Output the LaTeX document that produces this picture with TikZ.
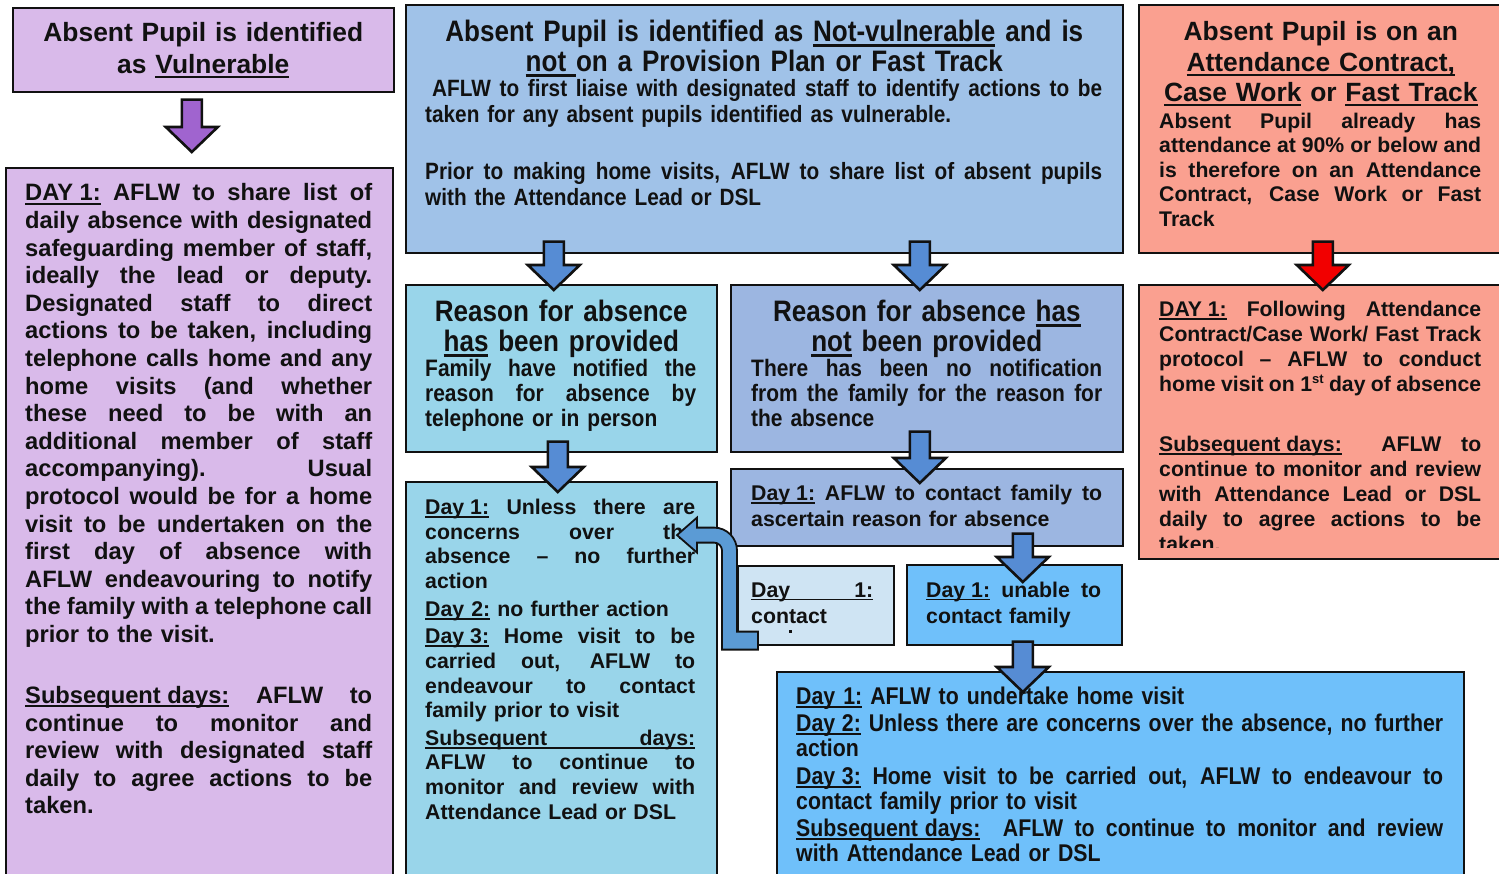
\documentclass[tikz,border=0pt]{standalone}
\usepackage{fontspec}
\setmainfont{Liberation Sans}
\newfontfamily\narrowfam{Liberation Sans}[FakeStretch=0.88]
\usepackage{xcolor}
\usetikzlibrary{calc}
\definecolor{ink}{HTML}{111111}
\definecolor{lilac}{HTML}{D9BAEA}
\definecolor{arrowpurple}{HTML}{A064CF}
\definecolor{paleblue}{HTML}{A0C2E8}
\definecolor{cyanblue}{HTML}{99D5EA}
\definecolor{periwinkle}{HTML}{9CB6E1}
\definecolor{iceblue}{HTML}{CFE4F3}
\definecolor{skyblue}{HTML}{6FC0FA}
\definecolor{salmon}{HTML}{FAA090}
\definecolor{arrowblue}{HTML}{568CD4}
\definecolor{arrowred}{HTML}{F20000}
\definecolor{uturn}{HTML}{5B9BD5}
% fonts (1pt = 1px of the page)
\newcommand{\headfont}{\bfseries\fontsize{26.4}{32}\selectfont}
\newcommand{\narrowhead}{\narrowfam\bfseries\fontsize{29.6}{30}\selectfont}
\newcommand{\narrowbody}{\narrowfam\bfseries\fontsize{23.6}{26}\selectfont}
\newcommand{\bodyfont}{\bfseries\fontsize{21.3}{24.7}\selectfont}
% underline at a fixed depth, crossing the descenders
\newcommand{\uln}[1]{\leavevmode\setbox0=\hbox{#1}\rlap{\vrule height -0.08em depth 0.16em width \wd0}\box0\relax}
% one justified line
\newcommand{\jl}[1]{\hbox to\hsize{\spaceskip=0.278em plus 1fil minus 0.1em\xspaceskip=\spaceskip #1}\par}
% two words pushed apart, underlined right across
\newcommand{\spreadul}[2]{\hbox to\hsize{\rlap{\vrule height -0.08em depth 0.16em width \hsize}#1\hfill #2}\par}
\newcommand{\sups}[1]{\raisebox{0.38em}{\fontsize{13}{13}\selectfont #1}}
% block arrow: fill, tail point, tip point (x taken from the tip)
\newcommand{\bigarrow}[3]{%
  \filldraw[draw=ink, line width=2.6pt, fill=#1, line join=miter]
    let \p1=(#2), \p2=(#3) in
    (\x2-10pt,\y1) -- (\x2+10pt,\y1) -- (\x2+10pt,\y2+25pt) -- (\x2+26pt,\y2+25pt)
    -- (\x2,\y2) -- (\x2-26pt,\y2+25pt) -- (\x2-10pt,\y2+25pt) -- cycle;}

\begin{document}
\begin{tikzpicture}[x=1pt, y=-1pt,
  every node/.style={inner sep=0pt, text=ink},
  box/.style={draw=ink, line width=1.6pt, anchor=north west},
  txt/.style={anchor=base west, align=left},
  headtxt/.style={anchor=base, align=center}]
\useasboundingbox (0,0) rectangle (1499,874);
% 1. the boxes
\node[box, fill=lilac, minimum width=381pt, minimum height=84pt] (vulnerable) at (12,7) {};
\node[box, fill=lilac, minimum width=387pt, minimum height=713pt] (vulday) at (5,167) {};
\node[box, fill=paleblue, minimum width=717pt, minimum height=248pt] (notvul) at (405,4) {};
\node[box, fill=cyanblue, minimum width=311pt, minimum height=167pt] (reasonyes) at (405,284) {};
\node[box, fill=periwinkle, minimum width=392pt, minimum height=167pt] (reasonno) at (730,284) {};
\node[box, fill=cyanblue, minimum width=311pt, minimum height=399pt] (nofurther) at (405,481) {};
\node[box, fill=periwinkle, minimum width=392pt, minimum height=77pt] (contactfam) at (730,468) {};
\node[box, fill=iceblue, minimum width=156pt, minimum height=79pt] (contacted) at (737,565) {};
\node[box, fill=skyblue, minimum width=215pt, minimum height=80pt] (unable) at (906,564) {};
\node[box, fill=skyblue, minimum width=687pt, minimum height=209pt] (homevisit) at (776,671) {};
\node[box, fill=salmon, minimum width=372pt, minimum height=248pt] (contract) at (1138,4) {};
\node[box, fill=salmon, minimum width=372pt, minimum height=274pt] (contractday) at (1138,284) {};

% 2. vulnerable column
\node[headtxt, font=\headfont, text width=370pt] (vulnerable-txt) at ([yshift=-35pt]vulnerable.north)
  {Absent Pupil is identified\\as \uln{Vulnerable}};
\node[txt, font=\bfseries\fontsize{23.7}{27.6}\selectfont, text width=347pt] (vulday-txt)
  at ([xshift=20pt,yshift=-34pt]vulday.north west) {%
  \jl{\uln{DAY 1:} AFLW to share list of}
  \jl{daily absence with designated}
  \jl{safeguarding member of staff,}
  \jl{ideally the lead or deputy.}
  \jl{Designated staff to direct}
  \jl{actions to be taken, including}
  \jl{telephone calls home and any}
  \jl{home visits (and whether}
  \jl{these need to be with an}
  \jl{additional member of staff}
  \jl{accompanying). Usual}
  \jl{protocol would be for a home}
  \jl{visit to be undertaken on the}
  \jl{first day of absence with}
  \jl{AFLW endeavouring to notify}
  \jl{the family with a telephone call}
  prior to the visit.\par\vspace{33.4pt}
  \jl{\uln{Subsequent days:} AFLW to}
  \jl{continue to monitor and}
  \jl{review with designated staff}
  \jl{daily to agree actions to be}
  taken.};

% 3. not-vulnerable column
\node[headtxt, font=\narrowhead, text width=700pt] (notvul-head) at ([yshift=-38pt]notvul.north)
  {Absent Pupil is identified as \uln{Not-vulnerable} and is\\\uln{not\ }on a Provision Plan or Fast Track};
\node[txt, font=\narrowbody, text width=677pt] (notvul-txt) at ([xshift=20pt,yshift=-93pt]notvul.north west) {%
  \jl{\kern7pt AFLW to first liaise with designated staff to identify actions to be}
  taken for any absent pupils identified as vulnerable.\par\vspace{31pt}
  \jl{Prior to making home visits, AFLW to share list of absent pupils}
  with the Attendance Lead or DSL};
\node[headtxt, font=\narrowhead, text width=300pt] (reasonyes-head) at ([yshift=-38pt]reasonyes.north)
  {Reason for absence\\\uln{has} been provided};
\node[txt, font=\narrowfam\bfseries\fontsize{23.8}{25}\selectfont, text width=271pt] (reasonyes-txt)
  at ([xshift=20pt,yshift=-93pt]reasonyes.north west) {%
  \jl{Family have notified the}
  \jl{reason for absence by}
  telephone or in person};
\node[headtxt, font=\narrowhead, text width=380pt] (reasonno-head) at ([yshift=-38pt]reasonno.north)
  {Reason for absence \uln{has}\\\uln{not} been provided};
\node[txt, font=\narrowfam\bfseries\fontsize{23.8}{25}\selectfont, text width=351pt] (reasonno-txt)
  at ([xshift=21pt,yshift=-93pt]reasonno.north west) {%
  \jl{There has been no notification}
  \jl{from the family for the reason for}
  the absence};
\node[txt, font=\bodyfont, text width=270pt] (nofurther-txt) at ([xshift=20pt,yshift=-33.5pt]nofurther.north west) {%
  \jl{\uln{Day 1:} Unless there are}
  \jl{concerns over the}
  \jl{absence – no further}
  action\par\vspace{2.8pt}
  \uln{Day 2:} no further action\par\vspace{2.8pt}
  \jl{\uln{Day 3:} Home visit to be}
  \jl{carried out, AFLW to}
  \jl{endeavour to contact}
  family prior to visit\par\vspace{2.8pt}
  \spreadul{Subsequent}{days:}
  \jl{AFLW to continue to}
  \jl{monitor and review with}
  Attendance Lead or DSL};
\node[txt, font=\bfseries\fontsize{21.3}{26}\selectfont, text width=351pt] (contactfam-txt)
  at ([xshift=21pt,yshift=-32.5pt]contactfam.north west) {%
  \jl{\uln{Day 1:} AFLW to contact family to}
  ascertain reason for absence};
\node[txt, font=\bfseries\fontsize{21.3}{26}\selectfont, text width=122pt] (contacted-txt)
  at ([xshift=14pt,yshift=-32pt]contacted.north west) {%
  \spreadul{Day}{1:}
  contact};
\fill[ink] (789,630) rectangle (791.5,633);
\node[txt, font=\bfseries\fontsize{21.3}{26}\selectfont, text width=175pt] (unable-txt)
  at ([xshift=20pt,yshift=-33pt]unable.north west) {%
  \jl{\uln{Day 1:} unable to}
  contact family};
\node[txt, font=\narrowfam\bfseries\fontsize{24.2}{25}\selectfont, text width=647pt] (homevisit-txt)
  at ([xshift=20pt,yshift=-33pt]homevisit.north west) {%
  \uln{Day 1:} AFLW to undertake home visit\par\vspace{2.5pt}
  \jl{\uln{Day 2:} Unless there are concerns over the absence, no further}
  action\par\vspace{2.5pt}
  \jl{\uln{Day 3:} Home visit to be carried out, AFLW to endeavour to}
  contact family prior to visit\par\vspace{2.5pt}
  \jl{\uln{Subsequent days:}\ \ AFLW to continue to monitor and review}
  with Attendance Lead or DSL};

% 4. contract column
\node[headtxt, font=\bfseries\fontsize{26.4}{30.5}\selectfont, text width=360pt] (contract-head)
  at ([xshift=-4pt,yshift=-37pt]contract.north)
  {Absent Pupil is on an\\\uln{Attendance Contract,}\\\uln{Case Work} or \uln{Fast Track}};
\node[txt, font=\bfseries\fontsize{21.2}{24.5}\selectfont, text width=322pt] (contract-txt)
  at ([xshift=21pt,yshift=-124.5pt]contract.north west) {%
  \jl{Absent Pupil already has}
  \jl{attendance at 90\% or below and}
  \jl{is therefore on an Attendance}
  \jl{Contract, Case Work or Fast}
  Track};
\begin{scope}
\clip (1138,284) rectangle (1510,547);
\node[txt, font=\bfseries\fontsize{21.2}{25}\selectfont, text width=322pt] (contractday-txt)
  at ([xshift=21pt,yshift=-32.5pt]contractday.north west) {%
  \jl{\uln{DAY 1:} Following Attendance}
  \jl{Contract/Case Work/ Fast Track}
  \jl{protocol – AFLW to conduct}
  \jl{home visit on 1\sups{st} day of absence}
  \vspace{35pt}
  \jl{\uln{Subsequent days:}\ \ AFLW to}
  \jl{continue to monitor and review}
  \jl{with Attendance Lead or DSL}
  \jl{daily to agree actions to be}
  taken.};
\end{scope}

% 5. block arrows between the boxes
\bigarrow{arrowpurple}{[yshift=-7pt]vulnerable.south}{[xshift=-7.5pt,yshift=15pt]vulday.north}
\bigarrow{arrowblue}{[yshift=12pt]notvul.south}{[xshift=-7.5pt,yshift=-6pt]reasonyes.north}
\bigarrow{arrowblue}{[yshift=12pt]notvul.south}{[xshift=-7pt,yshift=-6pt]reasonno.north}
\bigarrow{arrowred}{[yshift=12pt]contract.south}{[xshift=-2pt,yshift=-6pt]contractday.north}
\bigarrow{arrowblue}{[yshift=11pt]reasonyes.south}{[xshift=-3.5pt,yshift=-11pt]nofurther.north}
\bigarrow{arrowblue}{[yshift=21pt]reasonno.south}{[xshift=-7pt,yshift=-15pt]contactfam.north}
\bigarrow{arrowblue}{[yshift=13pt]contactfam.south}{[xshift=8.5pt,yshift=-18pt]unable.north}
\bigarrow{arrowblue}{[yshift=4pt]unable.south}{[xshift=8.5pt,yshift=-21pt]unable.south |- homevisit.north}

% 6. bent arrow from the contact box back to the no-further-action box
\begin{scope}[shift={(contacted.south west)}]
\filldraw[draw=ink, line width=1.8pt, fill=uturn, line join=miter]
  (21,-14) -- (21,4) -- (-15,4) -- (-15,-95)
  .. controls (-15,-99.4) and (-18.6,-103) .. (-23,-103) -- (-40,-103) -- (-40,-93)
  -- (-60,-110.5) -- (-40,-128) -- (-40,-118) -- (-23,-118)
  .. controls (-10.3,-118) and (0,-107.7) .. (0,-95) -- (0,-14) -- cycle;
\end{scope}
\end{tikzpicture}
\end{document}
